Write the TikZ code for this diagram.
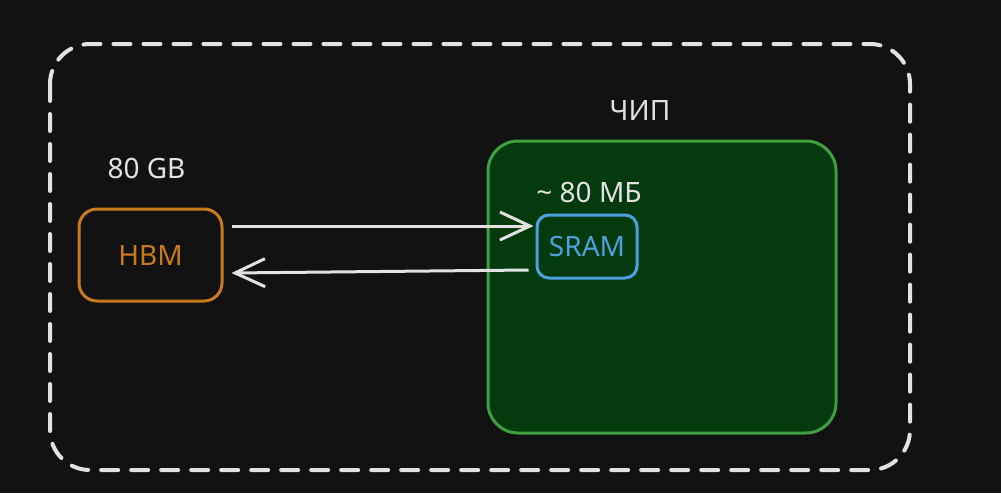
\documentclass[tikz,border=0pt]{standalone}
\usepackage{fontspec}
\setmainfont{Noto Sans}
\usetikzlibrary{positioning,arrows.meta}

\definecolor{bg}{RGB}{18,18,18}
\definecolor{ink}{RGB}{226,226,226}
\definecolor{chipfill}{RGB}{5,58,14}
\definecolor{chipline}{RGB}{62,160,64}
\definecolor{hbmline}{RGB}{202,122,30}
\definecolor{sramline}{RGB}{78,160,222}

\tikzset{
	txt/.style={font=\fontsize{28}{32}\selectfont, inner sep=0pt},
	frame/.style={draw=ink, line width=4pt, rounded corners=40pt, dash pattern=on 17pt off 13pt, line cap=round},
	membox/.style={line width=3pt, rounded corners=#1, txt},
	link/.style={draw=ink, line width=3pt, -{Straight Barb[length=30pt,width=28pt,line width=3pt]}},
}

\begin{document}
\begin{tikzpicture}[x=1pt,y=-1pt]
	\fill[bg] (0,0) rectangle (1001,493);
	\useasboundingbox (0,0) rectangle (1001,493);
	% outer system frame
	\draw[frame] (50,44) rectangle (910,470);
	% chip
	\node[draw=chipline, fill=chipfill, line width=3pt, rounded corners=30pt,
		minimum width=348pt, minimum height=292pt] (chip) at (662,287) {};
	\node[txt, text=ink] (chiplbl) [above=19pt of chip, xshift=-22pt] {ЧИП};
	% memories
	\node[membox=18pt, draw=hbmline, text=hbmline, minimum width=143pt, minimum height=92pt] (hbm) at (150.5,255) {HBM};
	\node[txt, text=ink] (hbmlbl) [above=29pt of hbm, xshift=-4pt] {80 GB};
	\node[membox=12pt, draw=sramline, text=sramline, minimum width=100pt, minimum height=63pt] (sram) at (587,246.5) {SRAM};
	\node[txt, text=ink] (sramlbl) [above=11pt of sram, xshift=2pt] {\char"007E{} 80 МБ};
	% transfers
	\draw[link] ([yshift=29pt, xshift=8pt]hbm.east) -- ([yshift=20.5pt, xshift=-2pt]sram.west);
	\draw[link] ([yshift=-23.5pt, xshift=-7pt]sram.west) -- ([yshift=-18pt, xshift=8pt]hbm.east);
\end{tikzpicture}
\end{document}
